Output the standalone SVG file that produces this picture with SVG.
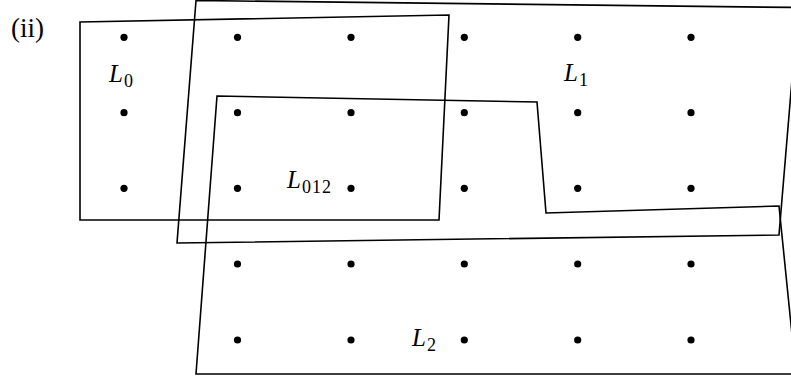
<svg xmlns="http://www.w3.org/2000/svg" width="791" height="381" viewBox="0 0 791 381">
<style>
.poly{fill:none;stroke:#000;stroke-width:1.6;stroke-linejoin:miter}
.dot{fill:#000}
.lab{font-family:"Liberation Serif","DejaVu Serif",serif;font-size:25px;fill:#000}
.par{font-size:27px}
.it{font-style:italic}
.sub{font-size:18px;font-style:normal;letter-spacing:1px}
</style>
<rect width="791" height="381" fill="#fff"/>
<text class="lab par" x="11" y="37">(ii)</text>
<g id="dots">
<circle class="dot" cx="124" cy="37.3" r="3.6"/><circle class="dot" cx="237.5" cy="37.3" r="3.6"/><circle class="dot" cx="351" cy="37.3" r="3.6"/><circle class="dot" cx="464.3" cy="37.3" r="3.6"/><circle class="dot" cx="577.7" cy="37.3" r="3.6"/><circle class="dot" cx="691" cy="37.3" r="3.6"/>
<circle class="dot" cx="124" cy="112.7" r="3.6"/><circle class="dot" cx="237.5" cy="112.7" r="3.6"/><circle class="dot" cx="351" cy="112.7" r="3.6"/><circle class="dot" cx="464.3" cy="112.7" r="3.6"/><circle class="dot" cx="577.7" cy="112.7" r="3.6"/><circle class="dot" cx="691" cy="112.7" r="3.6"/>
<circle class="dot" cx="124" cy="188.3" r="3.6"/><circle class="dot" cx="237.5" cy="188.3" r="3.6"/><circle class="dot" cx="351" cy="188.3" r="3.6"/><circle class="dot" cx="464.3" cy="188.3" r="3.6"/><circle class="dot" cx="577.7" cy="188.3" r="3.6"/><circle class="dot" cx="691" cy="188.3" r="3.6"/>
<circle class="dot" cx="237.5" cy="264" r="3.6"/><circle class="dot" cx="351" cy="264" r="3.6"/><circle class="dot" cx="464.3" cy="264" r="3.6"/><circle class="dot" cx="577.7" cy="264" r="3.6"/><circle class="dot" cx="691" cy="264" r="3.6"/>
<circle class="dot" cx="237.5" cy="340" r="3.6"/><circle class="dot" cx="351" cy="340" r="3.6"/><circle class="dot" cx="464.3" cy="340" r="3.6"/><circle class="dot" cx="577.7" cy="340" r="3.6"/><circle class="dot" cx="691" cy="340" r="3.6"/>
</g>
<g id="L0">
<polygon class="poly" points="80,22 449,15 439,220 80,220"/>
<text class="lab it" x="109" y="82">L<tspan class="sub" dx="1" dy="4.5">0</tspan></text>
</g>
<g id="L1">
<polygon class="poly" points="196,0.5 798,7.5 779,235 177,243"/>
<text class="lab it" x="564" y="81">L<tspan class="sub" dx="1" dy="5">1</tspan></text>
</g>
<g id="L2">
<polygon class="poly" points="217,96 537,102 546,213 779,206 796,374 196,374"/>
<text class="lab it" x="412" y="346">L<tspan class="sub" dx="1" dy="4.5">2</tspan></text>
</g>
<g id="L012">
<text class="lab it" x="287" y="188">L<tspan class="sub" dx="1" dy="4.5">012</tspan></text>
</g>
</svg>
